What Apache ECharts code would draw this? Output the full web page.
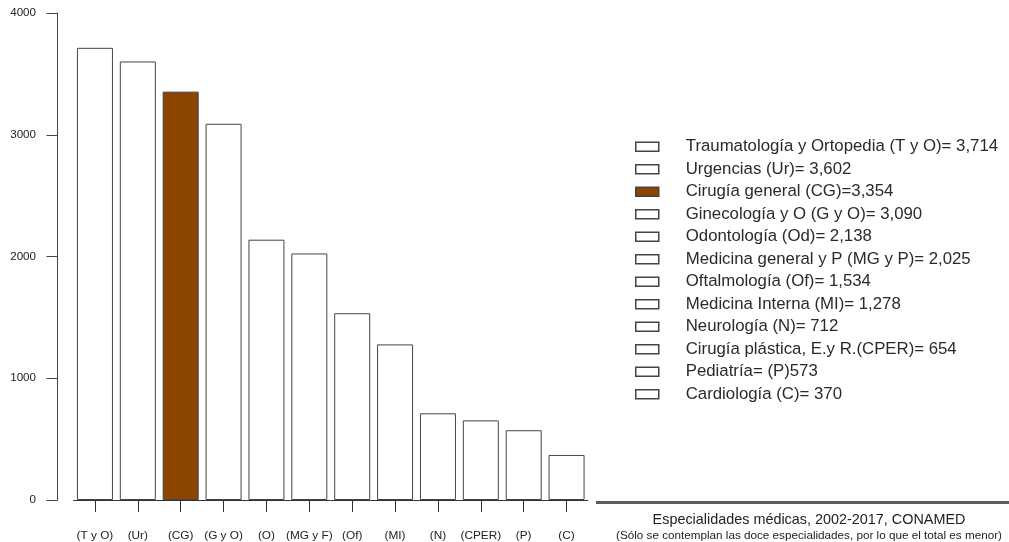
<!DOCTYPE html>
<html>
<head>
<meta charset="utf-8">
<script src="https://cdn.jsdelivr.net/npm/echarts@6/dist/echarts.min.js"></script>
<style>
html,body{margin:0;padding:0;background:#fff;}
#chart{width:1009px;height:542px;}
</style>
</head>
<body>
<div id="chart"></div>
<script>
const categories = ['(T y O)','(Ur)','(CG)','(G y O)','(O)','(MG y F)','(Of)','(MI)','(N)','(CPER)','(P)','(C)'];
const values = [3714, 3602, 3354, 3090, 2138, 2025, 1534, 1278, 712, 654, 573, 370];
const legendLabels = [
  'Traumatología y Ortopedia (T y O)= 3,714',
  'Urgencias (Ur)= 3,602',
  'Cirugía general (CG)=3,354',
  'Ginecología y O (G y O)= 3,090',
  'Odontología (Od)= 2,138',
  'Medicina general y P (MG y P)= 2,025',
  'Oftalmología (Of)= 1,534',
  'Medicina Interna (MI)= 1,278',
  'Neurología (N)= 712',
  'Cirugía plástica, E.y R.(CPER)= 654',
  'Pediatría= (P)573',
  'Cardiología (C)= 370'
];
const barColors = ['#ffffff','#ffffff','#8b4500','#ffffff','#ffffff','#ffffff','#ffffff','#ffffff','#ffffff','#ffffff','#ffffff','#ffffff'];
const yTicks = [0, 1000, 2000, 3000, 4000];

const FONT = '"Liberation Sans", Arial, sans-serif';

const series = values.map((v, i) => ({
  name: legendLabels[i],
  type: 'bar',
  stack: 'all',
  barWidth: 36,
  data: values.map((_, j) => (j === i ? v : '-')),
  itemStyle: { color: barColors[i], borderColor: '#444', borderWidth: 1 },
  emphasis: { disabled: true },
  animation: false
}));

const chart = echarts.init(document.getElementById('chart'), null, { renderer: 'canvas' });
chart.setOption({
  backgroundColor: '#fff',
  animation: false,
  title: {
    text: 'Especialidades médicas, 2002-2017, CONAMED',
    subtext: '(Sólo se contemplan las doce especialidades, por lo que el total es menor)',
    left: 804,
    top: 508,
    textAlign: 'center',
    itemGap: 3,
    textStyle: { fontFamily: FONT, fontSize: 14.4, fontWeight: 'normal', color: '#222' },
    subtextStyle: { fontFamily: FONT, fontSize: 11.7, color: '#222' }
  },
  legend: {
    orient: 'vertical',
    left: 630,
    top: 130.5,
    itemWidth: 23,
    itemHeight: 9,
    itemGap: 0,
    icon: 'rect',
    selectedMode: false,
    data: legendLabels,
    itemStyle: { borderWidth: 1.5, borderColor: '#444' },
    textStyle: { fontFamily: FONT, fontSize: 16.8, color: '#2a2a2a', lineHeight: 22.5, padding: [0, 0, 0, 22] }
  },
  grid: { left: 73.5, top: 13, width: 514.5, height: 488 },
  xAxis: {
    type: 'category',
    data: categories,
    axisLine: { show: true, lineStyle: { color: '#333', width: 1 } },
    axisTick: { show: true, alignWithLabel: true, length: 12, lineStyle: { color: '#333' } },
    axisLabel: { margin: 30, fontFamily: FONT, fontSize: 11.8, color: '#222', interval: 0 },
    splitLine: { show: false }
  },
  yAxis: {
    type: 'value',
    min: yTicks[0],
    max: yTicks[yTicks.length - 1],
    interval: 1000,
    offset: 16,
    axisLine: { show: true, lineStyle: { color: '#444', width: 1 } },
    axisTick: { show: true, length: 11, lineStyle: { color: '#444' } },
    axisLabel: { margin: 21.5, fontFamily: FONT, fontSize: 11.6, color: '#222', formatter: v => String(v) },
    splitLine: { show: false }
  },
  graphic: [
    { type: 'rect', shape: { x: 596, y: 501, width: 413, height: 3 }, style: { fill: '#5c5c5c' }, silent: true }
  ],
  series: series
});
</script>
</body>
</html>
